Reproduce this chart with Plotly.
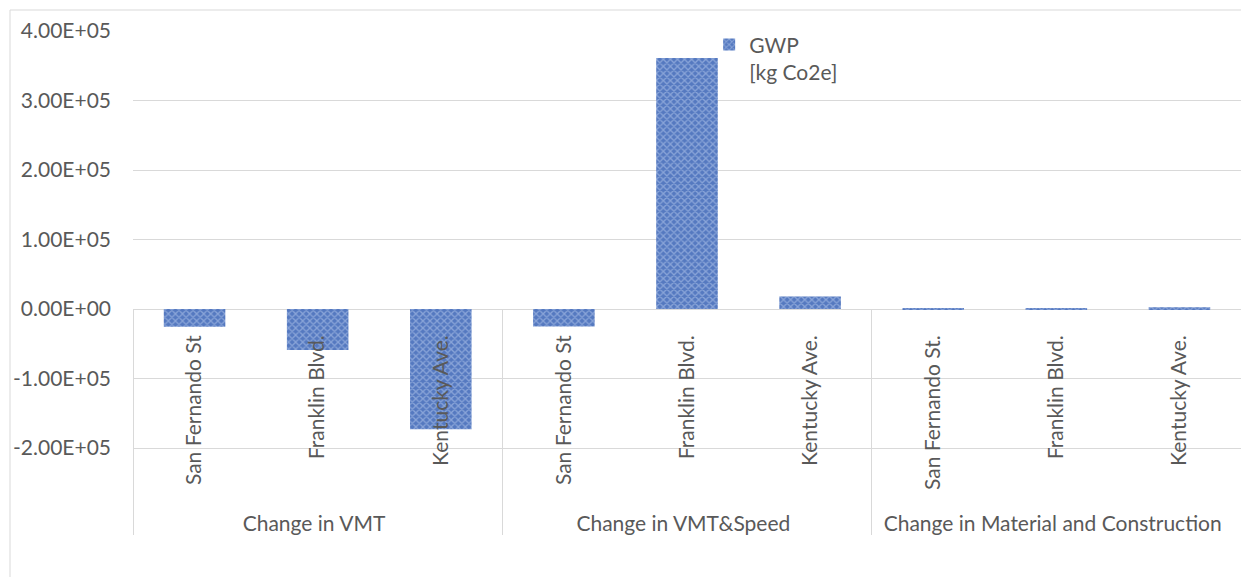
import plotly.graph_objects as go

# ---- data (listed street-first so Plotly's multicategory ordering keeps the reference order) ----
groups = ["Change in VMT", "Change in VMT&Speed", "Change in Material and Construction",
          "Change in VMT", "Change in VMT&Speed", "Change in Material and Construction",
          "Change in VMT", "Change in VMT&Speed", "Change in Material and Construction"]
streets = ["San Fernando St", "San Fernando St", "\u00a0\u00a0\u00a0\u00a0San Fernando St.",
           "Franklin Blvd.", "Franklin Blvd.", "Franklin Blvd.",
           "Kentucky Ave.", "Kentucky Ave.", "Kentucky Ave."]
gwp = [-25500, -25000, 1500,
       -59000, 361000, 1500,
       -173000, 18000, 2500]
series_name = "GWP<br>[kg Co2e]"
y_ticks = [-200000, -100000, 0, 100000, 200000, 300000, 400000]
y_min, y_max = -328000, 400000

def sci(v):
    return f"{v:.2E}"

FONT = "Lato, 'Open Sans', sans-serif"
TXT = "#595959"
GRID = "#d9d9d9"

fig = go.Figure()
fig.add_trace(go.Bar(
    x=[groups, streets], y=gwp, name=series_name, showlegend=True,
    marker=dict(color="#5a80c6", line=dict(width=0),
                pattern=dict(shape="x", size=5, solidity=0.45,
                             fgcolor="#bdd0f0", bgcolor="#5579c0", fillmode="overlay")),
))

zero_frac = (0 - y_min) / (y_max - y_min)

fig.update_layout(
    width=1241, height=577,
    margin=dict(l=133, r=0, t=31, b=40, autoexpand=False),
    paper_bgcolor="white", plot_bgcolor="white",
    bargap=0.5,
    font=dict(family=FONT, size=21, color=TXT),
    showlegend=True,
    legend=dict(x=0.52, y=1.013, xanchor="left", yanchor="top", valign="top",
                font=dict(family=FONT, size=21, color=TXT), bgcolor="rgba(0,0,0,0)",
                itemwidth=30, tracegroupgap=0),
    xaxis=dict(type="multicategory", anchor="free", position=zero_frac, automargin=False,
               tickangle=-90, showgrid=False, showline=False, ticks="",
               ticklabelstandoff=21,
               showdividers=True, dividercolor=GRID, dividerwidth=1,
               tickfont=dict(family=FONT, size=21, color=TXT)),
    yaxis=dict(range=[y_min, y_max], tickvals=y_ticks, ticktext=[sci(v) for v in y_ticks],
               automargin=False,
               showgrid=True, gridcolor=GRID, gridwidth=1, zeroline=True, zerolinecolor=GRID,
               zerolinewidth=1, showline=False, ticks="", ticklabelstandoff=21,
               tickfont=dict(family=FONT, size=21, color=TXT)),
    shapes=[dict(type="rect", xref="paper", yref="paper",
                 x0=(10 - 133) / 1108, x1=1.2, y0=-0.3, y1=(537 - 10) / 506,
                 line=dict(color=GRID, width=1), fillcolor="rgba(0,0,0,0)", layer="below")],
)

fig.write_html("out.html", config={"displayModeBar": False},
               post_script="document.body.style.margin='0px';")
